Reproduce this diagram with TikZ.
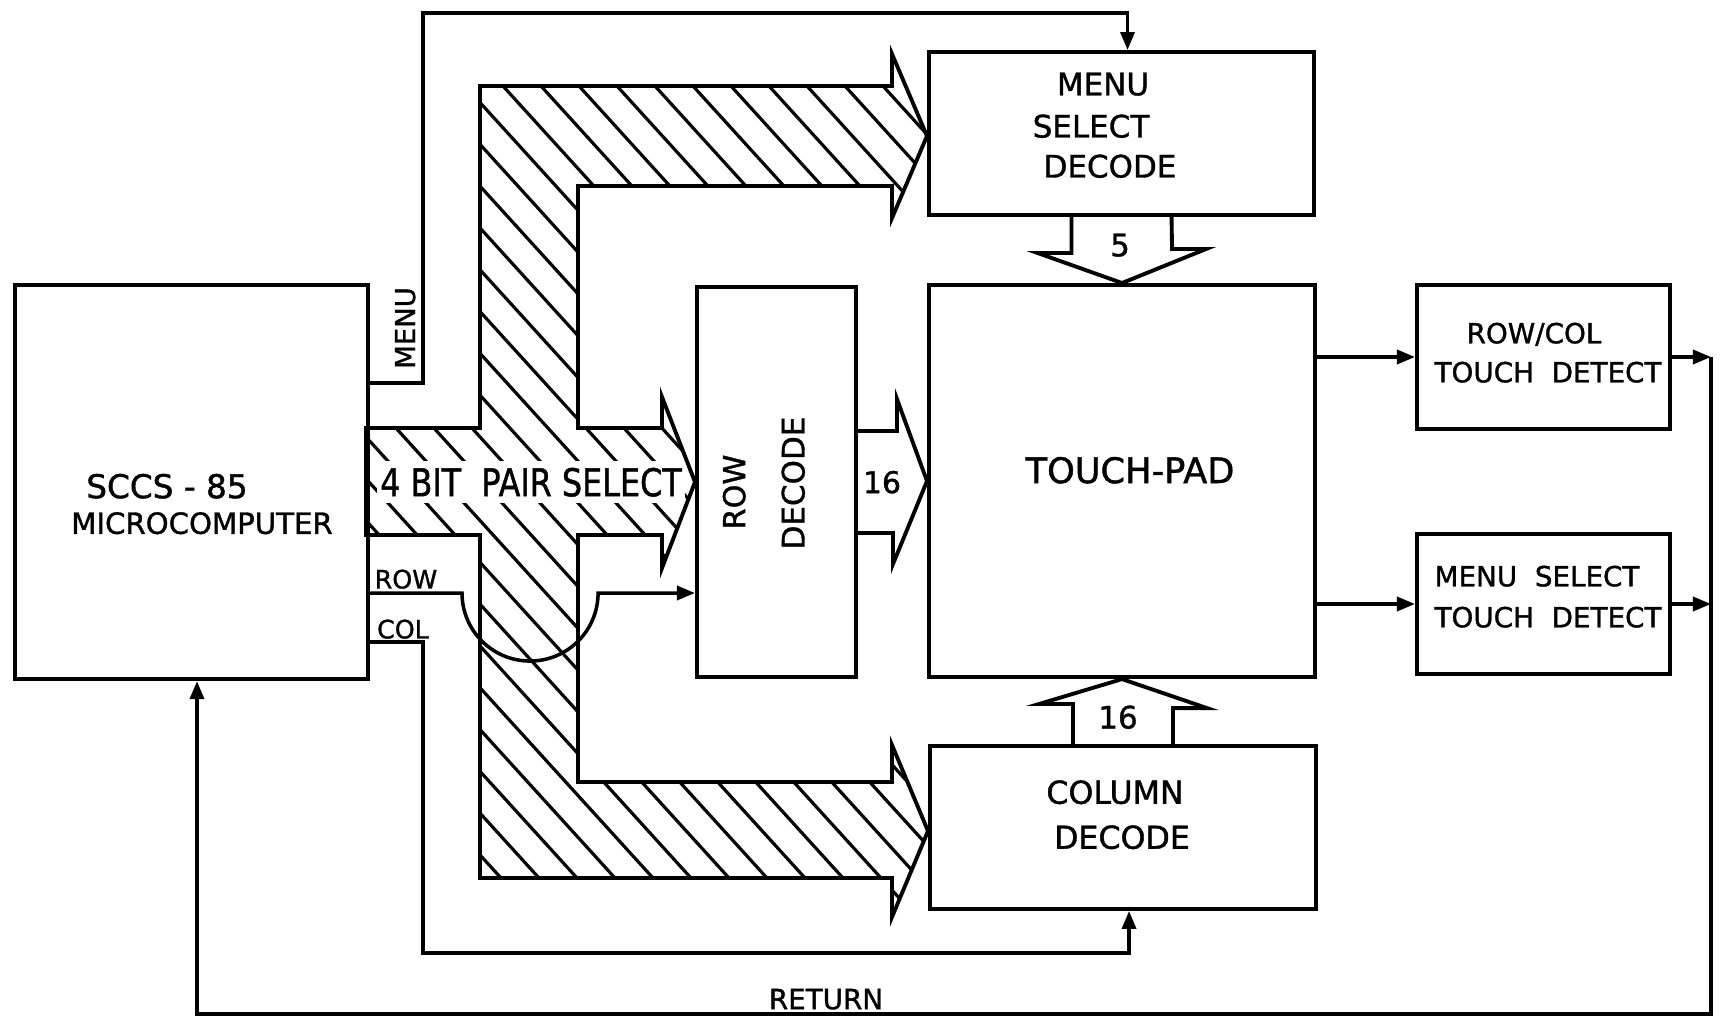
\documentclass[tikz,border=0pt]{standalone}
\usepackage{fontspec}
\setmainfont{DejaVu Sans}[FakeBold=1.2]
\usetikzlibrary{arrows.meta,calc}
\newcommand{\myfs}[1]{\fontsize{#1}{#1}\selectfont}
\begin{document}
\begin{tikzpicture}[x=0.01cm,y=-0.01cm,
  box/.style={draw,line width=1.1pt,inner sep=0pt,anchor=north west},
  wire/.style={line width=1pt},
  arr/.style={wire,-{Triangle[length=0.18cm,width=0.14cm]}},
  lbl/.style={inner sep=0pt,text depth=0pt},
  hatch/.style={line width=0.9pt},
  outl/.style={line width=1.1pt,line join=miter}]
\useasboundingbox (0,0) rectangle (1732,1020);
\fill[white] (0,0) rectangle (1732,1020);

% boxes
\node[box,minimum width=3.53cm,minimum height=3.94cm] (micro) at (13,283) {};
\node[box,minimum width=3.85cm,minimum height=1.63cm] (menusel) at (927,50) {};
\node[box,minimum width=3.86cm,minimum height=3.92cm] (touchpad) at (927,283) {};
\node[box,minimum width=1.59cm,minimum height=3.90cm] (rowdec) at (695,285) {};
\node[box,minimum width=3.86cm,minimum height=1.63cm] (coldec) at (928,744) {};
\node[box,minimum width=2.53cm,minimum height=1.44cm] (rcdet) at (1415,283) {};
\node[box,minimum width=2.53cm,minimum height=1.40cm] (msdet) at (1415,532) {};

% hatched bus
\def\buspath{(480,86) -- (892,86) -- (892,54) -- (927,136) -- (892,218) -- (892,186) -- (578,186) -- (578,428) -- (662,428) -- (662,397) -- (695,482) -- (662,568) -- (662,535) -- (578,535) -- (578,782) -- (892,782) -- (892,745) -- (928,831) -- (892,917) -- (892,878) -- (480,878) -- (480,535) -- (366,535) -- (366,428) -- (480,428) -- cycle}
\begin{scope}
\clip \buspath;
\foreach \k in {-24,...,12} \draw[hatch] ({424.8+38*\k},0) -- ({1333.9+38*\k},1000);
\end{scope}
\node[lbl,fill=white,inner xsep=1pt,inner ysep=2pt,font={\myfs{10.9pt}}] (bus) at (531,482) {\scalebox{0.83}[1]{4 BIT\ \ PAIR SELECT}};
\draw[outl] \buspath;

% block arrows
\draw[outl] ($(menusel.south)+(-50,0)$) -- ++(0,36) -- ++(-34,0) -- (touchpad.north) -- ++(84,-34) -- ++(-34,0) -- ($(menusel.south)+(50,0)$);
\draw[outl] ($(coldec.north)+(-50,0)$) -- ++(0,-40) -- ++(-34,0) -- (touchpad.south) -- ++(85,29) -- ++(-34,0) -- ($(coldec.north)+(50,0)$);
\draw[outl] ($(rowdec.east)+(0,-51)$) -- ++(39,0) -- ++(0,-32) -- (touchpad.west) -- ++(-34,83) -- ++(0,-31) -- ($(rowdec.east)+(0,51)$);

% wires
\coordinate (ymenu) at (0,383);
\coordinate (yrow) at (0,593);
\coordinate (ycol) at (0,642);
\coordinate (rx) at (1711,1014);
\coordinate (retx) at (197,1014);
\draw[arr] (micro.east |- ymenu) -- (423,383) -- (423,13) -| ([xshift=0.06cm]menusel.north);
\draw[arr] (micro.east |- yrow) -- (462,593) arc[start angle=180,end angle=360,radius=0.68cm] -- (rowdec.west |- yrow);
\draw[arr] (micro.east |- ycol) -- (423,642) -- (423,953) -| ([xshift=0.06cm]coldec.south);
\draw[arr] (touchpad.east |- rcdet.west) -- (rcdet.west);
\draw[arr] (touchpad.east |- msdet.west) -- (msdet.west);
\draw[arr] (rcdet.east) -- (rcdet.east -| rx);
\draw[arr] (msdet.east) -- (msdet.east -| rx);
\draw[arr] (rcdet.east -| rx) -- (rx) -- (retx) -- (micro.south -| retx);

% labels
\node[lbl,font={\myfs{9.3pt}}] (t1) at (167,486) {SCCS - 85};
\node[lbl,font={\myfs{8.3pt}}] (t2) at (202,523) {MICROCOMPUTER};
\node[lbl,rotate=90,font={\myfs{7.8pt}}] (tmenu) at (405,328) {MENU};
\node[lbl,font={\myfs{7.2pt}}] (trow) at (406,579) {ROW};
\node[lbl,font={\myfs{7.2pt}}] (tcol) at (403,629) {COL};
\node[lbl,rotate=90,font={\myfs{8.6pt}}] (trd1) at (734,492) {ROW};
\node[lbl,rotate=90,font={\myfs{8.8pt}}] (trd2) at (793,483) {DECODE};
\node[lbl,font={\myfs{8.5pt}}] (t16a) at (882,482) {16};
\node[lbl,font={\myfs{10pt}}] (ttp) at (1130,470) {TOUCH-PAD};
\node[lbl,font={\myfs{8.8pt}}] (tms1) at (1103,84) {MENU};
\node[lbl,font={\myfs{8.8pt}}] (tms2) at (1091,126) {SELECT};
\node[lbl,font={\myfs{8.8pt}}] (tms3) at (1110,166) {DECODE};
\node[lbl,font={\myfs{8.8pt}}] (t5) at (1120,245) {5};
\node[lbl,font={\myfs{8.8pt}}] (t16b) at (1118,717) {16};
\node[lbl,font={\myfs{9pt}}] (tcd1) at (1115,792) {COLUMN};
\node[lbl,font={\myfs{9pt}}] (tcd2) at (1122,837) {DECODE};
\node[lbl,font={\myfs{7.9pt}}] (trc1) at (1534,333) {ROW/COL};
\node[lbl,font={\myfs{7.9pt}}] (trc2) at (1548,372) {TOUCH\ \ DETECT};
\node[lbl,font={\myfs{7.9pt}}] (tmd1) at (1537,576) {MENU\ \ SELECT};
\node[lbl,font={\myfs{7.9pt}}] (tmd2) at (1548,617) {TOUCH\ \ DETECT};
\node[lbl,font={\myfs{7.9pt}}] (tret) at (826,999) {RETURN};
\end{tikzpicture}
\end{document}
